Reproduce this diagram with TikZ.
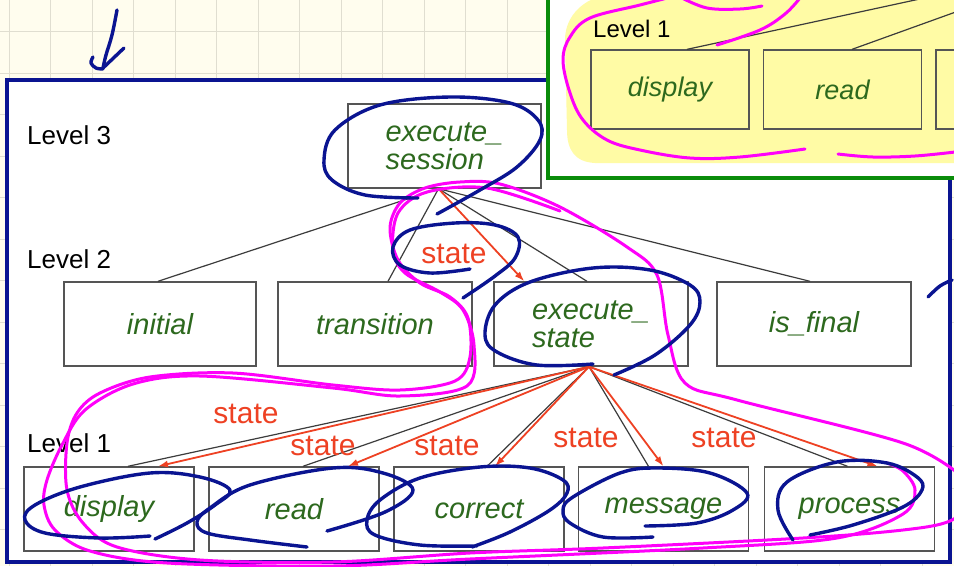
\documentclass[tikz,border=0pt]{standalone}
\usepackage{fontspec}
\setmainfont{Liberation Sans}
\usetikzlibrary{arrows.meta,calc}

\definecolor{paper}{RGB}{255,253,238}
\definecolor{gridc}{RGB}{224,222,208}
\definecolor{navy}{RGB}{10,20,145}
\definecolor{pinkink}{RGB}{255,0,250}
\definecolor{frameg}{RGB}{10,140,10}
\definecolor{hilite}{RGB}{255,251,165}
\definecolor{leaf}{RGB}{45,105,30}
\definecolor{flow}{RGB}{238,65,35}
\definecolor{edgec}{RGB}{85,85,85}
\definecolor{linkc}{RGB}{60,60,60}

\begin{document}
\begin{tikzpicture}[x=1pt,y=-1pt,
  modbox/.style={draw=edgec, line width=1.4pt, inner sep=0pt, align=left,
    minimum height=84pt, text=leaf,
    font=\fontsize{29}{28}\selectfont\itshape},
  smallbox/.style={draw=edgec, line width=1.3pt, inner sep=0pt,
    minimum width=158pt, minimum height=79pt, text=leaf,
    font=\fontsize{27}{27}\selectfont\itshape},
  levellabel/.style={anchor=base west, inner sep=0pt,
    font=\fontsize{26}{26}\selectfont},
  link/.style={draw=linkc, line width=1.2pt},
  flowarrow/.style={draw=flow, line width=1.8pt,
    -{Latex[length=10pt,width=7pt]}},
  flowlabel/.style={text=flow, inner sep=0pt,
    font=\fontsize{30}{30}\selectfont},
  pen/.style={draw=navy, line width=3.4pt, line cap=round, line join=round},
  marker/.style={draw=pinkink, line width=3pt, line cap=round, line join=round}]

\useasboundingbox (0,0) rectangle (954,566);
\clip (0,0) rectangle (954,566);

% squared paper
\fill[paper] (0,0) rectangle (954,566);
\foreach \k in {0,...,23} {\draw[gridc, line width=0.9pt] ({9.3+41.5*\k},0) -- ({9.3+41.5*\k},566);}
\foreach \k in {0,...,14} {\draw[gridc, line width=0.9pt] (0,{-9.8+41.5*\k}) -- (954,{-9.8+41.5*\k});}

% ---------- main slide ----------
\fill[white] (7,80) rectangle (950,562);

\node[levellabel] (lev3) at (27,144) {Level 3};
\node[levellabel] (lev2) at (27,268) {Level 2};
\node[levellabel] (lev1) at (27,452) {Level 1};

\node[modbox, minimum width=193pt] (es) at (444.5,146) {execute\_\\session};

\node[modbox, minimum width=192pt] (initial) at (160,324) {initial};
\node[modbox, minimum width=194pt] (transition) at (375,324) {transition};
\node[modbox, minimum width=194pt] (exstate) at (591,324) {execute\_\\state};
\node[modbox, minimum width=194pt] (isfinal) at (814,324) {is\_final};

\node[modbox, minimum width=170pt] (display) at (109,509) {display};
\node[modbox, minimum width=170pt] (read) at (294,509) {read};
\node[modbox, minimum width=170pt] (correct) at (479,509) {correct};
\node[modbox, minimum width=170pt] (message) at (663.5,509) {message};
\node[modbox, minimum width=170pt] (process) at (849.5,509) {process};

% call structure, level 3 to level 2
\coordinate (topfork) at ($(es.south)+(-6,0)$);
\draw[link] (topfork) -- ($(initial.north)+(-2,0)$);
\draw[link] (topfork) -- ($(transition.north)+(13,0)$);
\draw[link] (topfork) -- ($(exstate.north)+(-4,0)$);
\draw[link] (topfork) -- ($(isfinal.north)+(-4,0)$);
\draw[flowarrow] (topfork) -- ($(exstate.north west)+(31,0)$);
\node[flowlabel] (st0) at (454,254) {state};

% level 2 to level 1
\coordinate (midfork) at ($(exstate.south)+(-2,0)$);
\draw[link] (midfork) -- ($(display.north)+(19,0)$);
\draw[link] (midfork) -- ($(read.north)+(9,0)$);
\draw[link] (midfork) -- ($(correct.north)+(8,0)$);
\draw[link] (midfork) -- ($(message.north)+(-15,0)$);
\draw[link] (midfork) -- ($(process.north)+(-2,0)$);
\draw[flowarrow] (midfork) -- ($(display.north)+(49,0)$);
\draw[flowarrow] (midfork) -- ($(read.north)+(54,0)$);
\draw[flowarrow] (midfork) -- ($(correct.north)+(16,0)$);
\draw[flowarrow] (midfork) -- ($(message.north)+(0,0)$);
\draw[flowarrow] (midfork) -- ($(process.north)+(28,0)$);
\node[flowlabel] (st1) at (246,414) {state};
\node[flowlabel] (st2) at (323,446) {state};
\node[flowlabel] (st3) at (447,446) {state};
\node[flowlabel] (st4) at (586,438) {state};
\node[flowlabel] (st5) at (724,438) {state};

\draw[navy, line width=4.5pt] (7,80) rectangle (950,562);

% ---------- inset slide, top right ----------
\fill[white] (548,-10) rectangle (970,178);
\fill[hilite] (607,-5) -- (965,-5) -- (965,163) -- (595,163)
  .. controls (575,162) and (567,150) .. (567,130) -- (565,40)
  .. controls (565,15) and (585,-2) .. (607,-5) -- cycle;
\node[levellabel, font=\fontsize{24}{24}\selectfont] (ilev1) at (593,37) {Level 1};
\node[smallbox] (idisplay) at (670,89.5) {display};
\node[smallbox] (iread) at (842.5,89.5) {read};
\node[smallbox] (ithird) at (1015,89.5) {};
\coordinate (ifork) at (1100,-40);
\draw[link] (ifork) -- ($(idisplay.north)+(17,0)$);
\draw[link] (ifork) -- ($(iread.north)+(9.5,0)$);
\draw[frameg, line width=4.5pt] (548,-10) |- (970,178);

% ---------- pink marker ----------
\draw[marker] plot[smooth, tension=0.6] coordinates {(805,149) (740,157) (690,158) (640,150) (607,140) (583,120) (570,93) (563,60) (570,37) (590,18) (640,5) (675,-4)};
\draw[marker] plot[smooth, tension=0.6] coordinates {(680,-3) (707,8) (740,9) (762,6)};
\draw[marker] plot[smooth, tension=0.6] coordinates {(717,45) (760,30) (785,14) (800,-2)};
\draw[marker] plot[smooth, tension=0.6] coordinates {(838,154) (873,157) (915,156) (955,152)};

\draw[marker] plot[smooth, tension=0.55] coordinates {
  (975,500) (950,521) (903,530) (803,538) (603,548) (470,553) (333,562) (200,560)
  (117,547) (83,523) (67,490) (67,443) (77,413) (100,393) (150,377) (233,373)
  (333,385) (400,390) (455,381) (470,357) (468,318) (450,297) (420,283) (398,260)
  (390,228) (400,203) (425,188) (460,182) (500,184) (560,207) (627,247) (657,275)
  (668,335) (685,383) (737,400) (903,443) (960,475)};
\draw[marker] plot[smooth, tension=0.55] coordinates {
  (560,211) (487,188) (427,192) (398,213) (393,250) (405,273) (440,292) (463,310)
  (474,345) (467,386) (400,396) (333,388) (200,376) (133,384) (85,410) (62,445)
  (47,480) (44,505) (55,530) (90,551) (167,563) (333,566) (470,559) (703,548)
  (837,538) (903,514) (915,490) (903,471) (887,463)};

% ---------- blue pen ----------
\draw[pen] plot[smooth, tension=0.6] coordinates {(117,10) (112,35) (106,55) (103,68)};
\draw[pen] plot[smooth, tension=0.6] coordinates {(93,57) (91,63) (96,68) (103,69)};
\draw[pen] (103,68) -- (124,48);

\draw[pen] plot[smooth, tension=0.6] coordinates {(418,198) (365,195) (332,180) (324,160) (335,130) (380,105) (450,97) (510,103) (538,120) (540,140) (517,167) (480,190) (437,214)};
\draw[pen] plot[smooth, tension=0.6] coordinates {(470,269) (430,273) (400,265) (393,247) (410,230) (455,223) (495,225) (518,237) (515,258) (495,276) (463,298)};
\draw[pen] plot[smooth, tension=0.6] coordinates {(593,364) (537,365) (497,352) (485,335) (495,305) (530,282) (593,268) (650,270) (690,285) (700,302) (690,325) (655,355) (614,375)};

\draw[pen] plot[smooth, tension=0.6] coordinates {(150,536) (100,538) (45,533) (25,520) (35,505) (80,487) (150,473) (200,477) (230,490) (215,505) (187,523) (155,539)};
\draw[pen] plot[smooth, tension=0.6] coordinates {(307,547) (250,540) (207,533) (197,522) (210,508) (250,485) (333,468) (383,473) (413,490) (385,512) (327,531)};
\draw[pen] plot[smooth, tension=0.6] coordinates {(477,546) (420,545) (375,535) (367,520) (380,500) (420,478) (480,467) (530,468) (563,480) (567,493) (550,510) (510,532) (472,547)};
\draw[pen] plot[smooth, tension=0.6] coordinates {(653,537) (603,537) (570,523) (563,510) (573,497) (620,473) (657,468) (710,473) (747,493) (733,510) (697,523) (645,526)};
\draw[pen] plot[smooth, tension=0.6] coordinates {(793,540) (778,510) (787,482) (837,462) (887,463) (917,477) (922,490) (903,507) (853,525) (810,535)};
\draw[pen] plot[smooth, tension=0.6] coordinates {(928,297) (940,286) (952,280)};

\end{tikzpicture}
\end{document}
